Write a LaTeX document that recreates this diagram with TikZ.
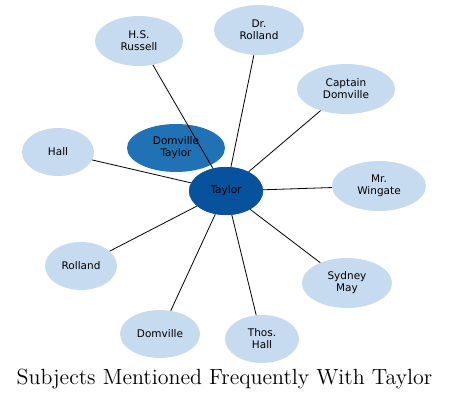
\documentclass[tikz,border=0pt]{standalone}
\usepackage{fontspec}
\usetikzlibrary{shapes.geometric}
\newfontfamily\nodefont{DejaVu Sans}
\definecolor{lightb}{HTML}{C6DBEF}
\definecolor{midb}{HTML}{2171B5}
\definecolor{darkb}{HTML}{08519C}
\begin{document}
\begin{tikzpicture}[x=1pt,y=1pt,
  bub/.style={ellipse, inner sep=0pt, align=center, font=\nodefont\fontsize{10.5}{12}\selectfont, text=black},
  outer/.style={bub, fill=lightb},
  link/.style={draw=black, line width=0.8pt}]
\useasboundingbox (0,0) rectangle (449,400);
\node[outer, minimum width=88, minimum height=50] (russell) at (139,359) {H.S.\\Russell};
\node[outer, minimum width=90, minimum height=50] (drrolland) at (259,370) {Dr.\\Rolland};
\node[outer, minimum width=98, minimum height=50] (captain) at (346,311) {Captain\\Domville};
\node[outer, minimum width=72, minimum height=48] (hall) at (58,248) {Hall};
\node[outer, minimum width=94, minimum height=50] (wingate) at (379,214) {Mr.\\Wingate};
\node[outer, minimum width=72, minimum height=48] (rolland) at (81,134) {Rolland};
\node[outer, minimum width=90, minimum height=50] (sydney) at (347,117) {Sydney\\May};
\node[outer, minimum width=80, minimum height=48] (domville) at (160,66) {Domville};
\node[outer, minimum width=74, minimum height=48] (thos) at (262,61) {Thos.\\Hall};
\node[bub, fill=midb, minimum width=98, minimum height=48] (dtaylor) at (176,252) {Domville\\Taylor};
\node[bub, fill=darkb, minimum width=74, minimum height=48] (taylor) at (226,209) {Taylor};
\foreach \n in {russell,drrolland,captain,hall,wingate,rolland,sydney,domville,thos}
  \draw[link] (taylor) -- (\n);
\node[bub, fill=darkb, minimum width=74, minimum height=48] at (226,209) {Taylor};
\node (title) at (224.5,21) {\scalebox{1.83}{\fontsize{12}{14}\selectfont Subjects Mentioned Frequently With Taylor}};
\end{tikzpicture}
\end{document}
